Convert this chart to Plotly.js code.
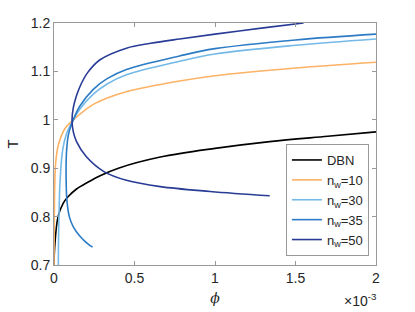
<!DOCTYPE html>
<html>
<head>
<meta charset="utf-8">
<script src="https://cdn.plot.ly/plotly-3.0.1.min.js"></script>
<style>html,body{margin:0;padding:0;background:#fff;}#chart{width:415px;height:312px;}</style>
</head>
<body>
<div id="chart"></div>
<script>
// phi values are in units of 1e-3
const dbnPhi = [0, 0.004, 0.025, 0.056, 0.087, 0.14, 0.21, 0.29, 0.40, 0.66, 1.0, 1.34, 1.7, 2.0];
const dbnT   = [0.70, 0.735, 0.80, 0.827, 0.841, 0.857, 0.871, 0.885, 0.900, 0.923, 0.941, 0.955, 0.966, 0.975];

const n10Phi = [0.0, 0.001, 0.002, 0.005, 0.01, 0.027, 0.068, 0.12, 0.244, 0.33, 0.45, 0.78, 1.0, 1.5, 2.0];
const n10T   = [0.70, 0.76, 0.80, 0.87, 0.91, 0.948, 0.982, 1.0, 1.032, 1.045, 1.058, 1.08, 1.091, 1.107, 1.119];

const n30Phi = [0.027, 0.028, 0.031, 0.037, 0.054, 0.079, 0.12, 0.16, 0.244, 0.33, 0.45, 0.78, 1.0, 1.5, 2.0];
const n30T   = [0.70, 0.75, 0.80, 0.869, 0.938, 0.972, 1.0, 1.022, 1.053, 1.074, 1.093, 1.121, 1.136, 1.154, 1.167];

const n35Phi = [0.24, 0.22, 0.16, 0.12, 0.095, 0.08, 0.076, 0.075, 0.078, 0.09, 0.12, 0.16, 0.244, 0.33, 0.45, 0.78, 1.0, 1.5, 2.0];
const n35T   = [0.737, 0.741, 0.76, 0.779, 0.80, 0.834, 0.865, 0.90, 0.935, 0.97, 1.0, 1.028, 1.063, 1.085, 1.104, 1.132, 1.147, 1.165, 1.177];

const n50Phi = [1.34, 0.97, 0.66, 0.45, 0.31, 0.2, 0.14, 0.12, 0.112, 0.12, 0.14, 0.17, 0.21, 0.286, 0.45, 0.6, 0.78, 1.0, 1.3, 1.55];
const n50T   = [0.843, 0.852, 0.862, 0.875, 0.893, 0.924, 0.955, 0.975, 1.0, 1.025, 1.05, 1.075, 1.098, 1.124, 1.148, 1.158, 1.167, 1.177, 1.19, 1.20];

const seriesNames = ['DBN', 'n<sub>w</sub>=10', 'n<sub>w</sub>=30', 'n<sub>w</sub>=35', 'n<sub>w</sub>=50'];
const seriesColors = ['#000000', '#FDB266', '#74B9E7', '#2C7BC4', '#283C96'];
const xTickVals = [0, 0.5, 1, 1.5, 2];
const yTickVals = [0.7, 0.8, 0.9, 1.0, 1.1, 1.2];

const xs = [dbnPhi, n10Phi, n30Phi, n35Phi, n50Phi];
const ys = [dbnT, n10T, n30T, n35T, n50T];

const traces = xs.map((x, i) => ({
  x: x, y: ys[i], name: seriesNames[i], type: 'scatter', mode: 'lines',
  line: {color: seriesColors[i], width: 1.6, shape: 'spline', smoothing: 1}
}));

const axisCommon = {
  showgrid: false, zeroline: false, showline: true, linecolor: '#999', linewidth: 1,
  mirror: 'ticks', ticks: 'inside', ticklen: 4, tickcolor: '#999',
  tickfont: {family: 'Liberation Sans, Arial, sans-serif', size: 14, color: '#262626'}
};

const layout = {
  width: 415, height: 312,
  margin: {l: 54, r: 39, t: 23, b: 47},
  paper_bgcolor: '#fff', plot_bgcolor: '#fff',
  showlegend: true,
  xaxis: Object.assign({}, axisCommon, {
    range: [0, 2], tickvals: xTickVals, ticktext: xTickVals.map(String),
    title: {text: '<i>ϕ</i>', standoff: 8, font: {family: 'DejaVu Serif, serif', size: 14, color: '#262626'}}
  }),
  yaxis: Object.assign({}, axisCommon, {
    range: [0.7, 1.2], tickvals: yTickVals, ticktext: yTickVals.map(v => v === 1 ? '1' : v.toFixed(1)),
    title: {text: 'T', standoff: 8, font: {family: 'Liberation Sans, Arial, sans-serif', size: 15, color: '#262626'}}
  }),
  legend: {
    x: 0.978, y: 0.5, xanchor: 'right', yanchor: 'top',
    bgcolor: '#fff', bordercolor: '#999', borderwidth: 1,
    font: {family: 'Liberation Sans, Arial, sans-serif', size: 13, color: '#262626'},
    tracegroupgap: 0, itemwidth: 30
  },
  annotations: [{
    text: '×10<sup>-3</sup>', xref: 'paper', yref: 'paper', x: 1.01, y: -0.145,
    xanchor: 'right', yanchor: 'middle', showarrow: false,
    font: {family: 'Liberation Sans, Arial, sans-serif', size: 14, color: '#262626'}
  }]
};

Plotly.newPlot('chart', traces, layout, {displayModeBar: false, staticPlot: true});
</script>
</body>
</html>
